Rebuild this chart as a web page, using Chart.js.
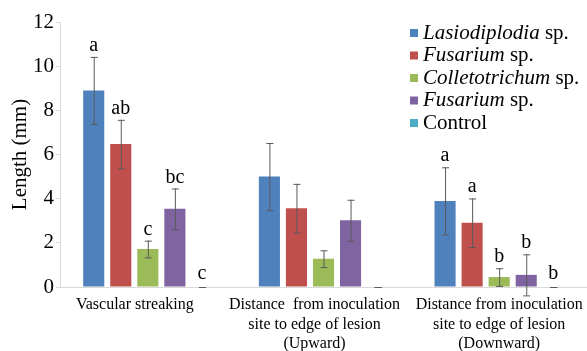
<!DOCTYPE html>
<html>
<head>
<meta charset="utf-8">
<script src="https://cdn.jsdelivr.net/npm/chart.js@4/dist/chart.umd.min.js"></script>
<style>
  html, body { margin: 0; padding: 0; background: #fff; }
  #wrap { width: 587px; height: 351px; }
</style>
</head>
<body>
<div id="wrap"><canvas id="chart" width="587" height="351"></canvas></div>
<script>
const categories = [
    ['Vascular streaking'],
    ['Distance  from inoculation', 'site to edge of lesion', '(Upward)'],
    ['Distance from inoculation', 'site to edge of lesion', '(Downward)'],
];
const yTicks = [0, 2, 4, 6, 8, 10, 12];

const seriesGenus = ['Lasiodiplodia', 'Fusarium', 'Colletotrichum', 'Fusarium', ''];
const seriesSuffix = [' sp.', ' sp.', ' sp.', ' sp.', 'Control'];
const seriesColors = ['#4F81BD', '#C0504D', '#9BBB59', '#8064A2', '#4BACC6'];

const lasiodiplodia = [8.9, 5.0, 3.9];
const fusarium1 = [6.47, 3.57, 2.91];
const colletotrichum = [1.72, 1.28, 0.45];
const fusarium2 = [3.54, 3.02, 0.55];
const control = [0, 0, 0];

const lasiodiplodiaErr = [1.52, 1.52, 1.52];
const fusarium1Err = [1.1, 1.1, 1.1];
const colletotrichumErr = [0.38, 0.38, 0.4];
const fusarium2Err = [0.92, 0.93, 0.93];
const controlErr = [0, 0, 0];

const lasiodiplodiaLetters = ['a', '', 'a'];
const fusarium1Letters = ['ab', '', 'a'];
const colletotrichumLetters = ['c', '', 'b'];
const fusarium2Letters = ['bc', '', 'b'];
const controlLetters = ['c', '', 'b'];

const values = [lasiodiplodia, fusarium1, colletotrichum, fusarium2, control];
const errors = [lasiodiplodiaErr, fusarium1Err, colletotrichumErr, fusarium2Err, controlErr];
const letters = [lasiodiplodiaLetters, fusarium1Letters, colletotrichumLetters, fusarium2Letters, controlLetters];

const serif = '"Liberation Serif", "Times New Roman", serif';
// category labels sit a little left of their bar groups in the original
const labelShift = [-13, -9, 0];

// error bars + significance letters
const annotate = {
    id: 'annotate',
    afterDatasetsDraw(chart) {
        const ctx = chart.ctx;
        const y = chart.scales.y;
        ctx.save();
        chart.data.datasets.forEach((ds, i) => {
            const meta = chart.getDatasetMeta(i);
            meta.data.forEach((bar, j) => {
                const v = ds.data[j];
                const e = errors[i][j];
                const top = y.getPixelForValue(v + e);
                const bot = y.getPixelForValue(v - e);
                ctx.strokeStyle = '#595959';
                ctx.lineWidth = 1;
                ctx.beginPath();
                if (e > 0) {
                    ctx.moveTo(bar.x + 0.5, top);
                    ctx.lineTo(bar.x + 0.5, bot);
                }
                ctx.moveTo(bar.x - 3, top + 0.5);
                ctx.lineTo(bar.x + 4, top + 0.5);
                ctx.moveTo(bar.x - 3, bot + 0.5);
                ctx.lineTo(bar.x + 4, bot + 0.5);
                ctx.stroke();

                const t = letters[i][j];
                if (t) {
                    ctx.fillStyle = '#000';
                    ctx.font = '20px ' + serif;
                    ctx.textAlign = 'center';
                    ctx.textBaseline = 'alphabetic';
                    ctx.fillText(t, bar.x, top - (e > 0 ? 6 : 8));
                }
            });
        });
        ctx.restore();
    },
};

// category labels under the x axis
const catLabels = {
    id: 'catLabels',
    afterDraw(chart) {
        const ctx = chart.ctx;
        const x = chart.scales.x;
        ctx.save();
        ctx.fillStyle = '#000';
        ctx.font = '16px ' + serif;
        ctx.textAlign = 'center';
        ctx.textBaseline = 'middle';
        categories.forEach((lines, i) => {
            const cx = x.getPixelForValue(i) + labelShift[i];
            lines.forEach((line, k) => {
                ctx.fillText(line, cx, x.top + 18 + k * 19.5);
            });
        });
        ctx.restore();
    },
};

// legend with italic genus names
const legendBox = {
    id: 'legendBox',
    afterDraw(chart) {
        const ctx = chart.ctx;
        ctx.save();
        ctx.textBaseline = 'middle';
        ctx.textAlign = 'left';
        seriesColors.forEach((c, i) => {
            const cy = 33 + i * 22.5;
            ctx.fillStyle = c;
            ctx.fillRect(410, cy - 4, 8, 8);
            ctx.fillStyle = '#000';
            let x = 423;
            if (seriesGenus[i]) {
                ctx.font = 'italic 21px ' + serif;
                ctx.fillText(seriesGenus[i], x, cy);
                x += ctx.measureText(seriesGenus[i]).width;
            }
            ctx.font = '21px ' + serif;
            ctx.fillText(seriesSuffix[i], x, cy);
        });
        ctx.restore();
    },
};

new Chart(document.getElementById('chart'), {
    type: 'bar',
    data: {
        labels: categories.map((l) => l.join(' ')),
        datasets: values.map((v, i) => ({
            label: seriesGenus[i] + seriesSuffix[i],
            data: v,
            backgroundColor: seriesColors[i],
            borderWidth: 0,
            barPercentage: 0.78,
            categoryPercentage: 0.77,
        })),
    },
    options: {
        responsive: false,
        animation: false,
        layout: { padding: { top: 22, right: 0, left: 0, bottom: 0 } },
        plugins: {
            legend: { display: false },
            tooltip: { enabled: false },
        },
        scales: {
            x: {
                grid: { display: false },
                border: { display: true, color: '#d9d9d9' },
                ticks: { display: false },
                afterFit(scale) { scale.height = 64; },
            },
            y: {
                min: 0,
                max: 12,
                afterBuildTicks(scale) { scale.ticks = yTicks.map((v) => ({ value: v })); },
                grid: { drawOnChartArea: false, drawTicks: true, tickLength: 4, color: '#d9d9d9' },
                border: { display: true, color: '#d9d9d9' },
                ticks: {
                    color: '#000',
                    font: { family: serif, size: 21 },
                    padding: 2,
                },
                title: {
                    display: true,
                    text: 'Length (mm)',
                    color: '#000',
                    font: { family: serif, size: 21 },
                    padding: { top: 8, bottom: 0 },
                },
                afterFit(scale) { scale.width = 60; },
            },
        },
    },
    plugins: [annotate, catLabels, legendBox],
});
</script>
</body>
</html>
